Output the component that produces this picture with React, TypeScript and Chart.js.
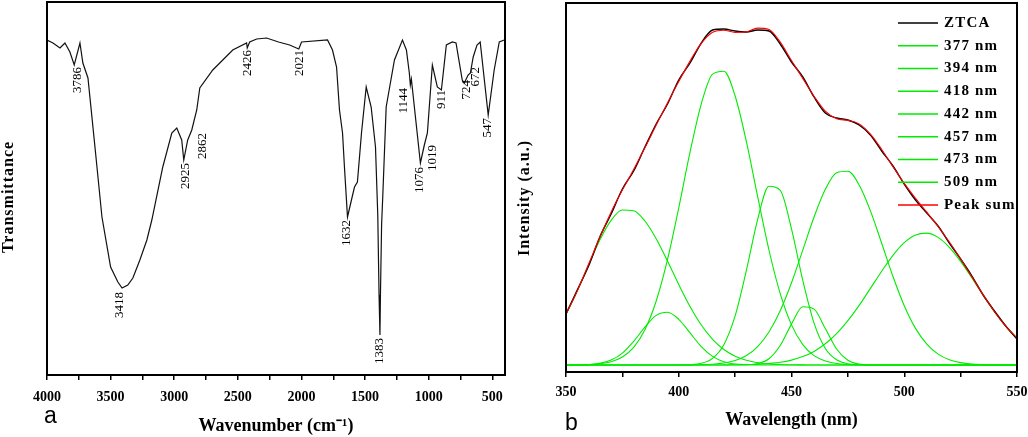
import React, { useEffect, useRef } from 'react';
import { Chart, registerables } from 'chart.js';

Chart.register(...registerables);

const SERIF = "'Liberation Serif', 'Times New Roman', serif";
const SANS = "'Liberation Sans', Arial, sans-serif";

// ---------------- Panel a : FTIR spectrum ----------------
const ftirWavenumber = [
  4000, 3953, 3898, 3859, 3820, 3786, 3741, 3718, 3678, 3623, 3568, 3500, 3443, 3410, 3365, 3325,
  3270, 3215, 3176, 3090, 3019, 2980, 2941, 2925, 2894, 2862, 2823, 2799, 2697, 2540, 2431, 2426,
  2407, 2352, 2274, 2180, 2093, 2021, 1999, 1795, 1756, 1724, 1701, 1677, 1662, 1638, 1607, 1583,
  1560, 1528, 1491, 1452, 1418, 1400, 1390, 1383, 1379, 1370, 1361, 1334, 1269, 1206, 1175, 1152,
  1144, 1136, 1065, 1034, 1010, 971, 932, 900, 861, 814, 785, 736, 720, 690, 672, 650, 620, 595,
  532, 485, 445, 406, 400,
];
const ftirTransmittance = [
  335, 332, 327, 332, 323, 310, 332, 312, 297, 228, 158, 108, 93, 87, 90, 97,
  115, 135, 155, 208, 242, 247, 235, 215, 235, 245, 265, 287, 305, 325, 332, 327,
  333, 336, 337, 333, 330, 326, 333, 335, 325, 308, 265, 242, 208, 158, 175, 188,
  193, 242, 288, 268, 228, 160, 80, 40, 80, 150, 178, 268, 315, 335, 325, 302,
  290, 296, 212, 230, 242, 310, 288, 285, 330, 333, 332, 295, 292, 300, 302, 318, 330, 333,
  260, 305, 333, 335, 335,
];
const ftirLabelText = ['3786', '3418', '2925', '2862', '2426', '2021', '1632', '1383', '1144', '1076', '1019', '911', '724', '672', '547'];
const ftirLabelWavenumber = [3761, 3427, 2909, 2776, 2423, 2015, 1646, 1387, 1199, 1073, 971, 900, 704, 634, 539];
const ftirLabelTransmittance = [308, 83, 212, 242, 325, 325, 155, 37, 287, 208, 230, 285, 295, 308, 257];
const ftirAxisMin = 400;
const ftirAxisMax = 4000;
const ftirMinorStep = 250;
const ftirLabelStep = 500;

// ---------------- Panel b : PL deconvolution ----------------
const wavelength = [
  350, 355, 360, 365, 370, 375, 380, 385, 390, 395, 400, 405, 410, 415, 420, 425, 430, 435, 440, 445,
  450, 455, 460, 465, 470, 475, 480, 485, 490, 495, 500, 505, 510, 515, 520, 525, 530, 535, 540, 545, 550,
];
const ztca = [
  51, 75, 99, 128, 151, 176, 194, 218, 241, 261, 285, 302, 322, 335, 336, 334, 333, 335, 334, 321,
  303, 288, 268, 252, 247, 245, 240, 230, 214, 199, 181, 165, 152, 139, 122, 106, 89, 70, 54, 39, 26,
];
const comp377 = [
  50.7, 73.9, 99.9, 124.9, 144.6, 155.0, 154.3, 144.0, 126.3, 104.0, 80.5, 58.5, 40.0, 25.7, 15.5, 8.8, 4.7, 2.3, 1.1, 0.5,
  0.2, 0.1, 0, 0, 0, 0, 0, 0, 0, 0, 0, 0, 0, 0, 0, 0, 0, 0, 0, 0, 0,
];
const comp394 = [
  0, 0.1, 0.4, 1.6, 4.9, 11.9, 23.6, 37.9, 49.6, 52.8, 45.7, 32.1, 18.4, 8.6, 3.2, 1.0, 0.3, 0.1, 0, 0,
  0, 0, 0, 0, 0, 0, 0, 0, 0, 0, 0, 0, 0, 0, 0, 0, 0, 0, 0, 0, 0,
];
const comp418 = [
  0, 0.1, 0.4, 1.2, 3.3, 8.0, 17.6, 35.3, 64.0, 105.3, 157.2, 212.8, 261.2, 290.9, 293.7, 269.0, 223.4, 168.3, 115.0, 71.3,
  40.1, 20.4, 9.4, 4.0, 1.5, 0.5, 0.2, 0, 0, 0, 0, 0, 0, 0, 0, 0, 0, 0, 0, 0, 0,
];
const comp442 = [
  0, 0, 0, 0, 0, 0, 0, 0, 0, 0, 0.1, 0.4, 1.7, 6.7, 20.3, 49.1, 94.7, 145.7, 178.7, 174.7,
  136.2, 84.6, 41.9, 16.5, 5.2, 1.3, 0.3, 0, 0, 0, 0, 0, 0, 0, 0, 0, 0, 0, 0, 0, 0,
];
const comp457 = [
  0, 0, 0, 0, 0, 0, 0, 0, 0, 0, 0, 0, 0, 0, 0, 0, 0.2, 1.4, 6.3, 19.5,
  40.9, 58.2, 55.9, 36.4, 16.0, 4.8, 1.0, 0.1, 0, 0, 0, 0, 0, 0, 0, 0, 0, 0, 0, 0, 0,
];
const comp473 = [
  0, 0, 0, 0, 0, 0, 0, 0, 0, 0, 0, 0.1, 0.3, 0.8, 2.0, 4.5, 9.5, 18.4, 33.0, 54.2,
  82.2, 114.9, 148.0, 175.7, 192.2, 193.7, 180.0, 154.1, 121.7, 88.5, 59.3, 36.6, 20.9, 10.9, 5.3, 2.4, 1.0, 0.4, 0.1, 0, 0,
];
const comp509 = [
  0, 0, 0, 0, 0, 0, 0, 0, 0, 0, 0, 0, 0, 0, 0.1, 0.2, 0.4, 0.7, 1.5, 2.7,
  4.9, 8.4, 13.6, 21.2, 31.3, 44.3, 59.6, 76.6, 93.8, 109.7, 122.3, 130.0, 131.9, 127.6, 117.7, 103.6, 87.0, 69.7, 53.2, 38.8, 27.0,
];
const peakSum = [
  50.7, 74.1, 100.7, 127.7, 152.8, 174.9, 195.5, 217.2, 239.9, 262.1, 283.5, 303.9, 321.6, 332.7, 334.8, 332.6, 333.2, 336.9, 335.6, 322.9,
  304.5, 286.6, 268.8, 253.8, 246.2, 244.6, 241.1, 230.8, 215.5, 198.2, 181.6, 166.6, 152.8, 138.5, 123.0, 106.0, 88.0, 70.1, 53.3, 38.8, 27.0,
];
const componentLabels = ['377 nm', '394 nm', '418 nm', '442 nm', '457 nm', '473 nm', '509 nm'];
const componentValues = [comp377, comp394, comp418, comp442, comp457, comp473, comp509];
const plAxisMin = 350;
const plAxisMax = 550;
const plMinorStep = 25;
const plLabelStep = 50;

// ---------------- helpers ----------------
function makeDecor(o: {
  id: string; yTitle: string; yTitleX: number; yTitleShift: number;
  letter: string; letterDx: number; letterBaseline: number;
}) {
  return {
    id: o.id,
    afterDatasetsDraw(chart: any) {
      const { ctx, chartArea } = chart;
      const { left, top, right, bottom } = chartArea;
      ctx.save();
      ctx.strokeStyle = '#000';
      ctx.lineWidth = 2;
      ctx.strokeRect(left, top, right - left, bottom - top);
      ctx.restore();

      ctx.save();
      ctx.fillStyle = '#000';
      ctx.font = `bold 16px ${SERIF}`;
      (ctx as any).letterSpacing = '1px';
      ctx.translate(o.yTitleX, (top + bottom) / 2 + o.yTitleShift);
      ctx.rotate(-Math.PI / 2);
      ctx.textAlign = 'center';
      ctx.textBaseline = 'alphabetic';
      ctx.fillText(o.yTitle, 0, 0);
      ctx.restore();

      ctx.save();
      ctx.fillStyle = '#000';
      ctx.font = `23px ${SANS}`;
      ctx.textAlign = 'left';
      ctx.textBaseline = 'alphabetic';
      ctx.fillText(o.letter, left + o.letterDx, o.letterBaseline);
      ctx.restore();
    },
  };
}

const peakLabelPlugin = {
  id: 'peakLabels',
  afterDatasetsDraw(chart: any) {
    const { ctx } = chart;
    const x = chart.scales.x;
    const y = chart.scales.y;
    ctx.save();
    ctx.font = `13px ${SERIF}`;
    ctx.fillStyle = '#000';
    ctx.textAlign = 'right';
    ctx.textBaseline = 'middle';
    ftirLabelText.forEach((t, i) => {
      const px = x.getPixelForValue(ftirLabelWavenumber[i]);
      const py = y.getPixelForValue(ftirLabelTransmittance[i]);
      ctx.save();
      ctx.translate(px, py);
      ctx.rotate(-Math.PI / 2);
      ctx.fillText(t, 0, 0);
      ctx.restore();
    });
    ctx.restore();
  },
};

const lineLegendPlugin = {
  id: 'lineLegend',
  afterDatasetsDraw(chart: any) {
    const { ctx, chartArea } = chart;
    const { top, right } = chartArea;
    ctx.save();
    ctx.font = `bold 15px ${SERIF}`;
    (ctx as any).letterSpacing = '1.2px';
    ctx.textBaseline = 'middle';
    ctx.textAlign = 'left';
    chart.data.datasets.forEach((ds: any, i: number) => {
      const yy = top + 20 + i * 22.75;
      ctx.strokeStyle = ds.borderColor;
      ctx.lineWidth = 1.5;
      ctx.beginPath();
      ctx.moveTo(right - 119, yy);
      ctx.lineTo(right - 79, yy);
      ctx.stroke();
      ctx.fillStyle = '#000';
      ctx.fillText(ds.label, right - 73, yy);
    });
    ctx.restore();
  },
};

function xAxis(opts: {
  min: number; max: number; step: number; labelStep: number; reverse: boolean;
  height: number; tickPad: number; title: string; titlePadBottom: number;
}) {
  return {
    type: 'linear' as const,
    reverse: opts.reverse,
    min: opts.min,
    max: opts.max,
    afterFit: (s: any) => {
      s.height = opts.height;
      s.paddingLeft = 0;
      s.paddingRight = 0;
    },
    ticks: {
      stepSize: opts.step,
      includeBounds: false,
      autoSkip: false,
      maxRotation: 0,
      minRotation: 0,
      padding: opts.tickPad,
      color: '#000',
      font: { family: SERIF, size: 14, weight: 'bold' as const },
      callback: (v: any) => (Number(v) % opts.labelStep === 0 ? String(v) : ''),
    },
    grid: {
      display: true,
      drawOnChartArea: false,
      drawTicks: true,
      tickLength: 5,
      color: '#000',
      lineWidth: 1.5,
    },
    border: { display: false },
    title: {
      display: true,
      text: opts.title,
      color: '#000',
      font: { family: SERIF, size: 18, weight: 'bold' as const },
      padding: { top: 0, bottom: opts.titlePadBottom },
    },
  };
}

export default function App() {
  const refA = useRef<HTMLCanvasElement>(null);
  const refB = useRef<HTMLCanvasElement>(null);

  useEffect(() => {
    const chartA = new Chart(refA.current as HTMLCanvasElement, {
      type: 'line',
      data: {
        datasets: [
          {
            label: 'FTIR',
            data: ftirWavenumber.map((w, i) => ({ x: w, y: ftirTransmittance[i] })),
            borderColor: '#111',
            borderWidth: 1.2,
            pointRadius: 0,
            tension: 0,
            fill: false,
          },
        ],
      },
      options: {
        animation: false,
        responsive: false,
        layout: { padding: { left: 47, right: 9, top: 2, bottom: 0 } },
        plugins: { legend: { display: false }, tooltip: { enabled: false } },
        scales: {
          x: xAxis({
            min: ftirAxisMin, max: ftirAxisMax, step: ftirMinorStep, labelStep: ftirLabelStep,
            reverse: true, height: 62, tickPad: 8.6, title: 'Wavenumber (cm⁻¹)', titlePadBottom: 0,
          }),
          y: { display: false, min: 0, max: 373 },
        },
      } as any,
      plugins: [
        peakLabelPlugin,
        makeDecor({ id: 'decorA', yTitle: 'Transmittance', yTitleX: 13, yTitleShift: 8.5, letter: 'a', letterDx: -3, letterBaseline: 423 }),
      ],
    });

    const green = 'rgb(0,235,0)';
    const datasetsB: any[] = [
      {
        label: 'ZTCA',
        data: wavelength.map((w, i) => ({ x: w, y: ztca[i] })),
        borderColor: '#000',
        borderWidth: 1.4,
        order: 1,
      },
      ...componentLabels.map((lab, k) => ({
        label: lab,
        data: wavelength.map((w, i) => ({ x: w, y: componentValues[k][i] })),
        borderColor: green,
        borderWidth: 1.1,
        order: 2,
      })),
      {
        label: 'Peak sum',
        data: wavelength.map((w, i) => ({ x: w, y: peakSum[i] })),
        borderColor: 'rgb(255,0,0)',
        borderWidth: 1.1,
        order: 0,
      },
    ].map((d) => ({ ...d, pointRadius: 0, fill: false, cubicInterpolationMode: 'monotone' }));

    const chartB = new Chart(refB.current as HTMLCanvasElement, {
      type: 'line',
      data: { datasets: datasetsB },
      options: {
        animation: false,
        responsive: false,
        layout: { padding: { left: 52, right: 11, top: 3, bottom: 0 } },
        plugins: { legend: { display: false }, tooltip: { enabled: false } },
        scales: {
          x: xAxis({
            min: plAxisMin, max: plAxisMax, step: plMinorStep, labelStep: plLabelStep,
            reverse: false, height: 65, tickPad: 6.6, title: 'Wavelength (nm)', titlePadBottom: 6,
          }),
          y: { display: false, min: -7, max: 362 },
        },
      } as any,
      plugins: [
        lineLegendPlugin,
        makeDecor({ id: 'decorB', yTitle: 'Intensity (a.u.)', yTitleX: 15, yTitleShift: 10.5, letter: 'b', letterDx: -1, letterBaseline: 430 }),
      ],
    });

    return () => {
      chartA.destroy();
      chartB.destroy();
    };
  }, []);

  return (
    <div style={{ position: 'absolute', left: 0, top: 0, width: 1028, height: 437, background: '#fff', overflow: 'hidden' }}>
      <canvas ref={refA} width={514} height={437} style={{ position: 'absolute', left: 0, top: 0, width: 514, height: 437, display: 'block' }} />
      <canvas ref={refB} width={514} height={437} style={{ position: 'absolute', left: 514, top: 0, width: 514, height: 437, display: 'block' }} />
    </div>
  );
}
